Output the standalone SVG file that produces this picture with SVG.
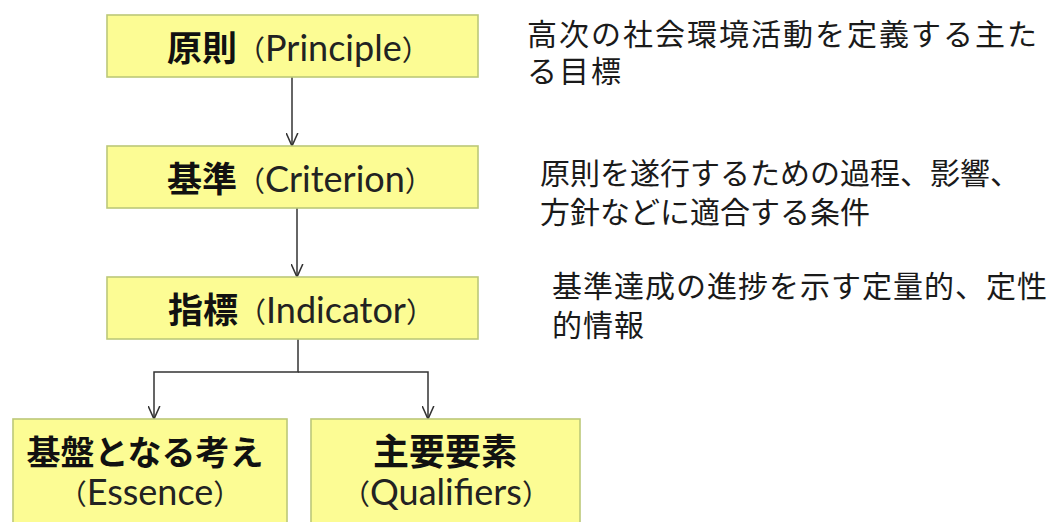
<svg xmlns="http://www.w3.org/2000/svg" width="1064" height="522" viewBox="0 0 1064 522">
<style>
.box{fill:#fcfc94;stroke:#bcc878;stroke-width:1.6}
.jb{font-family:"Noto Sans CJK JP",sans-serif;font-weight:700;fill:#111}
.lat{font-family:Lato,"Noto Sans CJK JP",sans-serif;font-weight:400;fill:#222;font-size:36px}
.par{font-family:"Noto Sans CJK JP",sans-serif;font-weight:400;fill:#222;font-size:28px}
.desc{font-family:"Noto Sans CJK JP",sans-serif;font-weight:400;fill:#1a1a1a;font-size:30px}
.con{fill:none;stroke:#333;stroke-width:1.5}
</style>
<defs>
<marker id="arr" viewBox="0 0 10 10" refX="10" refY="5" markerWidth="13" markerHeight="13" markerUnits="userSpaceOnUse" orient="auto">
<path d="M0,0.5 L10,5 L0,9.5" fill="none" stroke="#333" stroke-width="1.2"/>
</marker>
</defs>
<g id="connectors">
<path class="con" d="M292,77 V146" marker-end="url(#arr)"/>
<path class="con" d="M297,208 V277" marker-end="url(#arr)"/>
<path class="con" d="M298,339 V372 H154 V419" marker-end="url(#arr)"/>
<path class="con" d="M298,372 H428 V419" marker-end="url(#arr)"/>
</g>
<g id="principle">
<rect class="box" x="107" y="15" width="371" height="62"/>
<text x="167" y="61" font-size="35"><tspan class="jb">原則</tspan><tspan class="par">（</tspan><tspan class="lat">Principle</tspan><tspan class="par">）</tspan></text>
</g>
<g id="criterion">
<rect class="box" x="107" y="146" width="371" height="62"/>
<text x="167" y="192" font-size="35"><tspan class="jb">基準</tspan><tspan class="par">（</tspan><tspan class="lat">Criterion</tspan><tspan class="par">）</tspan></text>
</g>
<g id="indicator">
<rect class="box" x="107" y="277" width="371" height="62"/>
<text x="168" y="323" font-size="35"><tspan class="jb">指標</tspan><tspan class="par">（</tspan><tspan class="lat">Indicator</tspan><tspan class="par">）</tspan></text>
</g>
<g id="essence">
<rect class="box" x="13" y="419" width="274" height="112"/>
<text text-anchor="middle"><tspan class="jb" x="145" y="465" font-size="34">基盤となる考え</tspan><tspan x="150" y="505"><tspan class="par">（</tspan><tspan class="lat">Essence</tspan><tspan class="par">）</tspan></tspan></text>
</g>
<g id="qualifiers">
<rect class="box" x="311" y="419" width="269" height="112"/>
<text text-anchor="middle"><tspan class="jb" x="445" y="465" font-size="36">主要要素</tspan><tspan x="446" y="505"><tspan class="par">（</tspan><tspan class="lat">Qualifiers</tspan><tspan class="par">）</tspan></tspan></text>
</g>
<g id="desc-principle">
<text class="desc" letter-spacing="2"><tspan x="527" y="45">高次の社会環境活動を定義する主た</tspan><tspan x="527" y="82">る目標</tspan></text>
</g>
<g id="desc-criterion">
<text class="desc"><tspan x="540" y="184">原則を遂行するための過程、影響、</tspan><tspan x="540" y="223">方針などに適合する条件</tspan></text>
</g>
<g id="desc-indicator">
<text class="desc" letter-spacing="1"><tspan x="552" y="297">基準達成の進捗を示す定量的、定性</tspan><tspan x="552" y="336">的情報</tspan></text>
</g>
</svg>
